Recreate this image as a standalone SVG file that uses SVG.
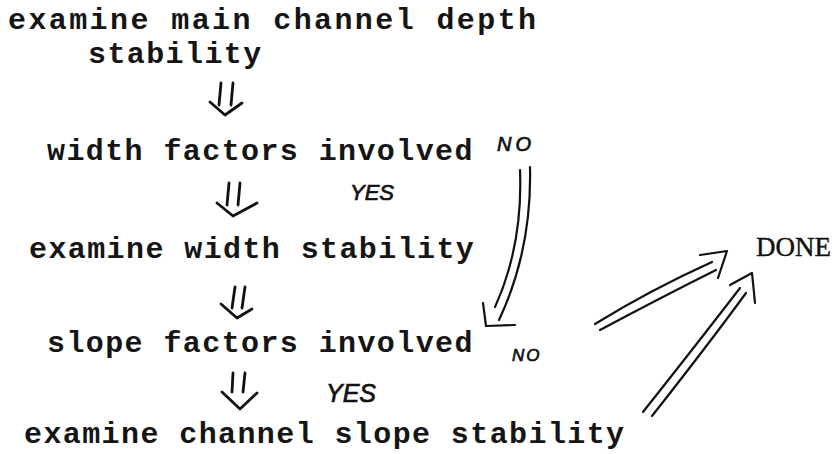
<svg xmlns="http://www.w3.org/2000/svg" width="834" height="454" viewBox="0 0 834 454">
  <style>
    .tw { font-family: "Liberation Mono", "Courier New", monospace; font-size: 30px; font-weight: bold; letter-spacing: 1.4px; fill: #151515; }
    .wide { letter-spacing: 2.4px; }
    .hand { font-family: "Liberation Sans", Arial, sans-serif; font-style: italic; fill: #111; stroke: #111; stroke-width: 0.7; }
    .done { font-family: "Liberation Serif", "Times New Roman", serif; font-size: 27px; fill: #111; stroke: #111; stroke-width: 0.4; }
    .pen { fill: none; stroke: #111; stroke-width: 2.8; stroke-linecap: round; stroke-linejoin: round; }
    .thin { fill: none; stroke: #111; stroke-width: 2.2; stroke-linecap: round; stroke-linejoin: round; }
  </style>
  <rect width="834" height="454" fill="#fff"/>

  <!-- steps -->
  <g id="depth">
    <text class="tw wide" x="8" y="29">examine main channel depth</text>
    <text class="tw" x="88" y="63">stability</text>
  </g>
  <g id="width-factors">
    <text class="tw" x="47" y="160">width factors involved</text>
  </g>
  <g id="width-stability">
    <text class="tw" x="29" y="258">examine width stability</text>
  </g>
  <g id="slope-factors">
    <text class="tw" x="47" y="352">slope factors involved</text>
  </g>
  <g id="slope-stability">
    <text class="tw" x="24" y="443">examine channel slope stability</text>
  </g>
  <g id="done">
    <text class="done" x="756" y="256">DONE</text>
  </g>

  <!-- hand-drawn connectors and their labels -->
  <g id="connectors">
    <!-- depth -> width factors -->
    <path class="pen" d="M221 83 L219 105 M233 83 L231 105"/>
    <path class="pen" d="M210 102 L225 115 L242 103"/>
    <!-- width factors -> width stability -->
    <path class="pen" d="M229 183 L227 205 M240 183 L238 205"/>
    <path class="pen" d="M217 203 L233 216 L257 203"/>
    <!-- width stability -> slope factors -->
    <path class="pen" d="M235 287 L232 308 M245 287 L242 308"/>
    <path class="pen" d="M221 304 L237 318 L252 309"/>
    <!-- slope factors -> slope stability -->
    <path class="pen" d="M233 373 L232 392 M245 373 L243 392"/>
    <path class="pen" d="M222 392 L240 409 L257 393"/>

    <!-- NO: width factors -> slope factors -->
    <path class="thin" d="M520 170 Q523 245 495 307"/>
    <path class="thin" d="M530 167 Q532 250 499 320"/>
    <path class="thin" d="M483 303 L486 326 L515 325"/>

    <!-- NO: slope factors -> DONE -->
    <path class="thin" d="M595 324 Q650 290 712 262"/>
    <path class="thin" d="M600 330 Q660 298 716 270"/>
    <path class="thin" d="M700 255 L727 251 L718 278"/>

    <!-- slope stability -> DONE -->
    <path class="thin" d="M643 412 Q700 340 740 288"/>
    <path class="thin" d="M652 416 Q708 345 746 293"/>
    <path class="thin" d="M730 285 L752 273 L755 303"/>

    <text class="hand" x="497" y="151" font-size="20" letter-spacing="4">NO</text>
    <text class="hand" x="350" y="200" font-size="22">YES</text>
    <text class="hand" x="512" y="361" font-size="17" letter-spacing="2">NO</text>
    <text class="hand" x="326" y="402" font-size="25">YES</text>
  </g>
</svg>
